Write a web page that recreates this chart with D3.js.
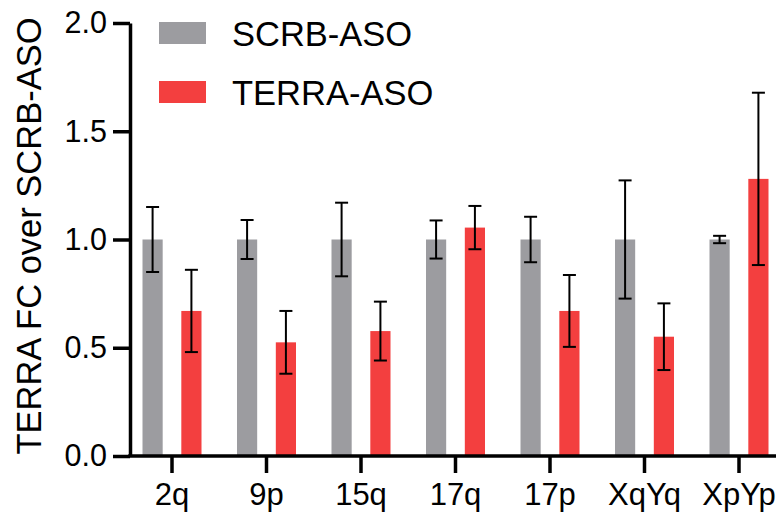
<!DOCTYPE html>
<html>
<head>
<meta charset="utf-8">
<script src="https://cdn.jsdelivr.net/npm/d3@7"></script>
<style>
	body { margin: 0; background: #fff; }
	svg { display: block; font-family: Arial, "Liberation Sans", sans-serif; }
	.axis path, .axis line { stroke: #000; }
	.axis text { fill: #000; }
</style>
</head>
<body>
<svg id="chart" width="776" height="517"></svg>
<script>
// data
var categories = ["2q", "9p", "15q", "17q", "17p", "XqYq", "XpYp"];
var series = ["SCRB-ASO", "TERRA-ASO"];
var scrbMean = [1.00, 1.00, 1.00, 1.00, 1.00, 1.00, 1.00];
var scrbErr  = [0.15, 0.09, 0.17, 0.088, 0.105, 0.273, 0.017];
var terraMean = [0.67, 0.525, 0.577, 1.055, 0.67, 0.551, 1.28];
var terraErr  = [0.19, 0.145, 0.136, 0.10, 0.166, 0.154, 0.398];
var yTicks = [0, 0.5, 1.0, 1.5, 2.0];
var colors = ["#9c9ca0", "#f33f3f"];

var svg = d3.select('#chart');
var W = 776, plotLeft = 130, plotTop = 23, plotBottom = 456;

var x = d3.scaleBand().domain(categories).range([124.75, 786.25]).padding(0);
var xs = d3.scaleBand().domain(series).range([-29.5, 29.5]).paddingInner(0.48);
var y = d3.scaleLinear().domain([0, 2]).range([plotBottom, plotTop]);

var rows = categories.map(function(c, i){
	return [
		{cat: c, s: series[0], v: scrbMean[i], e: scrbErr[i]},
		{cat: c, s: series[1], v: terraMean[i], e: terraErr[i]}
	];
});

var groups = svg.append('g').selectAll('g').data(rows).enter().append('g')
	.attr('transform', function(d){ return 'translate(' + (x(d[0].cat) + x.bandwidth()/2) + ',0)'; });

groups.selectAll('rect').data(function(d){ return d; }).enter().append('rect')
	.attr('x', function(d){ return xs(d.s); })
	.attr('width', xs.bandwidth())
	.attr('y', function(d){ return y(d.v); })
	.attr('height', function(d){ return y(0) - y(d.v); })
	.attr('fill', function(d, i){ return colors[i]; });

// error bars
var capW = 6.5;
var eb = groups.selectAll('g.err').data(function(d){ return d; }).enter().append('g')
	.attr('class', 'err')
	.attr('stroke', '#000')
	.attr('stroke-width', 2);
eb.append('line')
	.attr('x1', function(d){ return xs(d.s) + xs.bandwidth()/2; })
	.attr('x2', function(d){ return xs(d.s) + xs.bandwidth()/2; })
	.attr('y1', function(d){ return y(d.v + d.e); })
	.attr('y2', function(d){ return y(d.v - d.e); });
[1, -1].forEach(function(sign){
	eb.append('line')
		.attr('x1', function(d){ return xs(d.s) + xs.bandwidth()/2 - capW; })
		.attr('x2', function(d){ return xs(d.s) + xs.bandwidth()/2 + capW; })
		.attr('y1', function(d){ return y(d.v + sign*d.e); })
		.attr('y2', function(d){ return y(d.v + sign*d.e); });
});

// y axis
var yAxis = svg.append('g').attr('class', 'axis')
	.attr('transform', 'translate(' + plotLeft + ',0)')
	.call(d3.axisLeft(y).tickValues(yTicks).tickFormat(d3.format('.1f'))
		.tickSize(17).tickSizeOuter(0).tickPadding(6));
yAxis.select('.domain').attr('stroke-width', 3.5);
yAxis.selectAll('.tick line').attr('stroke-width', 3.5);
yAxis.selectAll('text').attr('font-size', 30.5);

// x axis
var xAxis = svg.append('g').attr('class', 'axis')
	.attr('transform', 'translate(0,' + plotBottom + ')')
	.call(d3.axisBottom(x).tickSize(17).tickSizeOuter(0).tickPadding(10));
xAxis.select('.domain').remove();
xAxis.append('line').attr('x1', plotLeft - 1.75).attr('x2', W).attr('stroke', '#000').attr('stroke-width', 3.5);
xAxis.selectAll('.tick line').attr('stroke-width', 3.5);
xAxis.selectAll('text').attr('font-size', 31);

// y label
svg.append('text')
	.attr('transform', 'translate(41,236) rotate(-90)')
	.attr('text-anchor', 'middle')
	.attr('font-size', 34.5)
	.text('TERRA FC over SCRB-ASO');

// legend
var legend = svg.append('g').selectAll('g').data(series).enter().append('g')
	.attr('transform', function(d, i){ return 'translate(159,' + (22 + i*59) + ')'; });
legend.append('rect').attr('width', 47).attr('height', 22)
	.attr('fill', function(d, i){ return colors[i]; });
legend.append('text').attr('x', 73).attr('y', 24).attr('font-size', 34.5)
	.text(function(d){ return d; });
</script>
</body>
</html>
